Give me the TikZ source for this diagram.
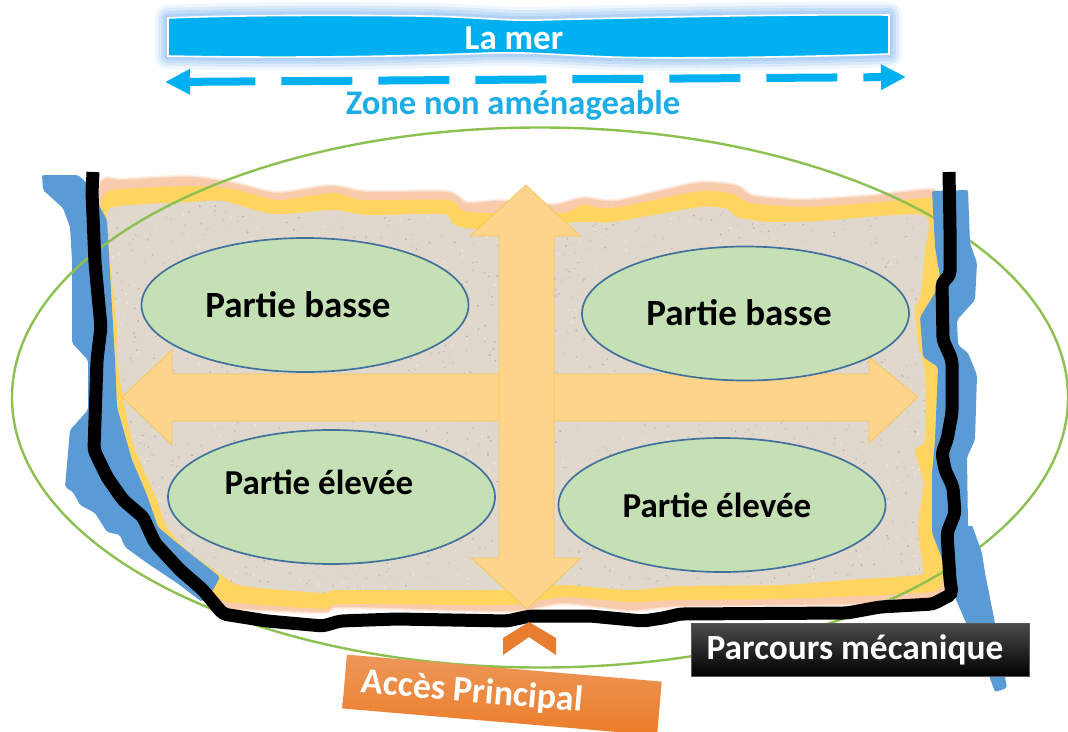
\documentclass[tikz,border=0pt]{standalone}
\usepackage{fontspec}
\setmainfont{Carlito}[BoldFont={Carlito Bold}]
\usetikzlibrary{arrows.meta,shapes.geometric}
\definecolor{peach}{HTML}{F8CBAD}
\definecolor{bandyellow}{HTML}{FFD55F}
\definecolor{sand}{HTML}{E0D8CC}
\definecolor{waterblue}{HTML}{5B9BD5}
\definecolor{ringgreen}{HTML}{8CC152}
\definecolor{zonefill}{HTML}{C5E0B4}
\definecolor{zoneline}{HTML}{41719C}
\definecolor{crossfill}{HTML}{FED48C}
\definecolor{crossline}{HTML}{F5C85A}
\definecolor{seablue}{HTML}{00B0F0}
\definecolor{glowblue}{HTML}{8CBDF2}
\definecolor{zonetext}{HTML}{1CADE4}
\definecolor{accessorange}{HTML}{E87D2F}
\tikzset{
  zone/.style={ellipse,draw=zoneline,line width=1.7pt,fill=zonefill,inner sep=0pt,minimum width=327pt,minimum height=134pt},
  handtext/.style={font=\fontsize{36}{36}\selectfont\bfseries,text=black,inner sep=0pt},
  crossarrow/.style={fill=crossfill,draw=crossline,line width=.8pt,line join=miter},
  water/.style={fill=waterblue,rounded corners=2pt},
  route/.style={draw=black,line width=13pt,rounded corners=4pt}
}
\newcommand{\sandpts}{(107,214)(120,206)(190,202)(223,201)(273,214)(333,210)(367,215)(443,214)(453,224)(477,229)(580,222)(613,222)(700,207)(727,209)(737,217)(767,222)(820,221)(923,215)(925,250)(920,297)(915,308)(918,343)(925,373)(925,440)(915,450)(923,483)(918,530)(923,568)(918,575)(847,580)(780,585)(680,586)(630,590)(563,585)(497,590)(340,590)(323,593)(243,586)(223,576)(187,550)(167,527)(157,500)(132,440)(117,360)(117,327)(110,260)}
\newcommand{\yellowpts}{(102,201)(113,190)(190,186)(233,189)(277,200)(333,193)(363,200)(447,200)(463,211)(490,213)(563,213)(583,205)(613,208)(700,191)(733,194)(750,203)(803,207)(870,203)(932,198)(942,210)(945,240)(945,560)(942,577)(930,592)(780,599)(680,600)(630,602)(563,597)(507,605)(343,604)(323,609)(230,602)(213,592)(160,530)(140,490)(120,420)(105,360)(100,220)}
\newcommand{\peachpts}{(100,186)(123,180)(190,177)(233,183)(277,193)(330,186)(367,192)(447,192)(467,203)(500,201)(553,205)(583,198)(617,201)(697,183)(737,186)(753,196)(803,200)(870,196)(932,190)(942,205)(945,240)(945,580)(935,597)(847,604)(680,606)(630,610)(563,603)(507,611)(343,607)(323,612)(230,608)(213,598)(100,300)}
\begin{document}
\begin{tikzpicture}[x=1pt,y=-1pt]
\useasboundingbox (0,0) rectangle (1068,731);
% beach bands
\draw[peach,opacity=.3,line width=4.5pt,line join=round] plot[smooth cycle,tension=.4] coordinates {\peachpts};
\draw[peach,opacity=.4,line width=2pt,line join=round] plot[smooth cycle,tension=.4] coordinates {\peachpts};
\fill[peach] plot[smooth cycle,tension=.4] coordinates {\peachpts};
\fill[bandyellow] plot[smooth cycle,tension=.4] coordinates {\yellowpts};
\begin{scope}
\clip plot[smooth cycle,tension=.4] coordinates {\sandpts};
\fill[sand] (90,190) rectangle (950,610);
\pgfmathsetseed{4217}
\foreach \i in {1,...,2800}{
  \pgfmathsetmacro{\px}{100+rnd*840}
  \pgfmathsetmacro{\py}{195+rnd*405}
  \pgfmathsetmacro{\pr}{.5+rnd*.7}
  \pgfmathtruncatemacro{\pk}{int(rnd*3)}
  \ifnum\pk=0 \fill[black!16!sand] (\px,\py) circle (\pr pt);
  \else\ifnum\pk=1 \fill[white!40!sand] (\px,\py) circle (\pr pt);
  \else \fill[black!8!sand] (\px,\py) circle (\pr pt);\fi\fi
}
\end{scope}
% left water
\fill[water] (42,175)--(78,175)--(87,183)--(107,220)--(115,360)--(117,407)--(132,460)--(147,495)--(158,527)--(177,543)--(220,577)--(213,590)--(202,602)--(177,583)--(147,563)--(125,547)--(120,535)--(107,532)--(95,513)--(80,505)--(73,492)--(65,487)--(68,453)--(70,430)--(88,410)--(88,360)--(72,343)--(72,260)--(70,227)--(63,208)--(43,190)--cycle;
% outer ring
\node[ellipse,draw=ringgreen,line width=2.4pt,inner sep=0pt,minimum width=1056pt,minimum height=540pt] (ring) at (540,397.5) {};
% right water
\fill[water] (932,191)--(968,190)--(970,243)--(977,263)--(975,300)--(957,320)--(958,345)--(968,353)--(977,375)--(975,440)--(967,457)--(968,527)--(972,525)--(982,553)--(985,573)--(995,623)--(1007,688)--(995,692)--(988,673)--(957,602)--(945,570)--(940,553)--(932,533)--(932,473)--(935,440)--(938,367)--(923,357)--(920,317)--(935,293)--(940,277)--(935,247)--cycle;
% cross of arrows
\draw[crossarrow] (122,397)--(172,350)--(172,374)--(869,374)--(869,357)--(918,397)--(869,443)--(869,421)--(172,421)--(172,445)--cycle;
\draw[crossarrow] (526,185)--(580,236)--(554,236)--(554,558)--(581,558)--(527,609)--(471,558)--(499,558)--(499,236)--(470,236)--cycle;
% zones
\node[zone] (zoneTL) at (305,305) {};
\node[zone] (zoneTR) at (745.5,313.5) {};
\node[zone] (zoneBL) at (331.5,497) {};
\node[zone] (zoneBR) at (722,505) {};
\node[handtext,font=\fontsize{37}{37}\selectfont\bfseries] (labelTL) at (298,305) {Partie basse};
\node[handtext,font=\fontsize{37}{37}\selectfont\bfseries] (labelTR) at (739,313) {Partie basse};
\node[handtext,font=\fontsize{35}{35}\selectfont\bfseries] (labelBL) at (319,482) {Partie élevée};
\node[handtext,font=\fontsize{35}{35}\selectfont\bfseries] (labelBR) at (717,505) {Partie élevée};
% mechanical route
\draw[route] (93,172)--(92,193)--(95,263)--(101,327)--(97,360)--(95,420)--(94,450)--(107,477)--(123,500)--(143,517)--(155,543)--(180,570)--(203,590)--(223,614)--(267,621)--(323,626)--(340,621)--(397,619)--(507,621)--(530,616)--(590,616)--(643,621)--(663,618)--(680,614)--(847,613)--(880,607)--(933,604)--(952,594)--(950,580)--(947,533)--(955,513)--(953,487)--(945,470)--(942,453)--(947,440)--(952,413)--(952,360)--(943,340)--(942,283)--(950,275)--(950,227)--(949,172);
% sea
\newcommand{\seapath}{(168,18) .. controls (240,15) and (340,15) .. (420,16) .. controls (480,17) and (500,21) .. (540,20) .. controls (620,18) and (780,14) .. (889,15) -- (889,54) .. controls (800,57) and (680,59) .. (610,57) .. controls (560,55) and (530,52) .. (490,53) .. controls (440,55) and (320,59) .. (168,56) -- cycle}
\foreach \w/\o in {26/.14,20/.2,14/.28,8/.35}{
  \draw[glowblue,opacity=\o,line width=\w pt,line join=round] \seapath;
}
\fill[seablue,draw=white,line width=1.6pt] \seapath;
\node[font=\fontsize{35}{35}\selectfont\bfseries,text=white,inner sep=0pt] (sea) at (514,38) {La mer};
\coordinate (zoneL) at (165,82);
\coordinate (zoneR) at (906,77);
\draw[{Triangle[length=25pt,width=24pt]}-{Triangle[length=25pt,width=24pt]},seablue,line width=8pt,dash pattern=on 71pt off 26pt,dash phase=4pt] (zoneL)--(zoneR);
\node[font=\fontsize{34.5}{35}\selectfont\bfseries,text=zonetext,inner sep=0pt] (nonzone) at (513,105) {Zone non aménageable};
% access
\fill[accessorange] (529,622)--(556,638)--(556,655)--(529,637)--(503,655)--(503,638)--cycle;
\node[rotate=-4.9,minimum width=316pt,minimum height=54pt,inner sep=0pt,top color=accessorange!80!white,bottom color=accessorange!85!orange,font=\fontsize{36}{36}\selectfont\bfseries,text=white] (access) at (502,695) {\makebox[316pt][l]{\hspace{17pt}Accès Principal}};
% route label
\node[minimum width=338pt,minimum height=53pt,inner sep=0pt,draw=black!65,line width=.6pt,top color=black!70,middle color=black,bottom color=black,font=\fontsize{35.4}{36}\selectfont\bfseries,text=white] (routebox) at (860,649.5) {\makebox[338pt][c]{\hspace{-10pt}Parcours mécanique}};
\end{tikzpicture}
\end{document}
